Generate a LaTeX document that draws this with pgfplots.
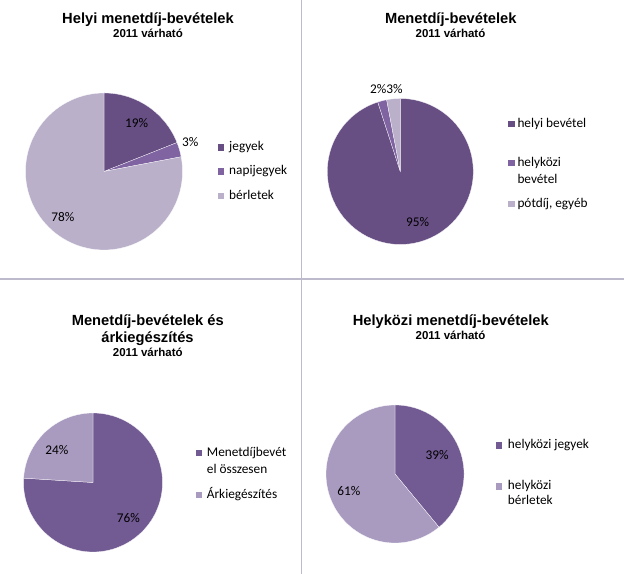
\documentclass[border=0pt]{standalone}
\usepackage{pgfplots}
\pgfplotsset{compat=1.18}
\usepackage{fontspec}
\setmainfont{Carlito}
\newfontfamily\arialf{Liberation Sans}
\definecolor{cA}{HTML}{674F84}
\definecolor{cB}{HTML}{8064A2}
\definecolor{cC}{HTML}{BAB0CA}
\definecolor{cD}{HTML}{725A93}
\definecolor{cE}{HTML}{A99BBF}
\definecolor{sep}{HTML}{BDBACB}
\newcommand\tfont{\arialf\bfseries\fontsize{14.7bp}{17bp}\selectfont}
\newcommand\sfont{\arialf\bfseries\fontsize{11.5bp}{13bp}\selectfont}
\newcommand\lfont{\fontsize{13.3bp}{16bp}\selectfont}
\pgfplotsset{pieax/.style={scale only axis, width=#1bp, height=#1bp,
  xmin=-1, xmax=1, ymin=-1, ymax=1, hide axis, clip=false, anchor=center}}
% slice between cumulative shares #1 and #2 (percent), clockwise from 12 o'clock
\newcommand\slice[3]{%
  \pgfmathsetmacro\sa{90-3.6*(#2)}%
  \pgfmathsetmacro\sb{90-3.6*(#1)}%
  \edef\doslice{\noexpand\addplot[fill=#3, draw=white, line width=0.25pt,
     domain=\sa:\sb, samples=90] ({cos(x)},{sin(x)}) -- (axis cs:0,0) -- cycle;}%
  \doslice}
\newcommand\lkey[3]{\fill[#3] (#1,#2-3.2) rectangle ++(6.4,6.4);}
\newcommand\ltext[3]{\node[anchor=base west, inner sep=0pt, font=\lfont] at (#1,#2-3.1) {#3};}
\begin{document}
\begin{tikzpicture}[x=1bp, y=1bp]
\path[use as bounding box] (0,0) rectangle (624,574);
% separators
\draw[sep, line width=1.2bp] (301.5,0) -- (301.5,574);
\draw[sep, line width=1.2bp] (0,295) -- (624,295);

% ---------- Chart 1 ----------
\begin{axis}[pieax=157, at={(104bp,402.5bp)}]
\slice{0}{19}{cA}
\slice{19}{19+3}{cB}
\slice{19+3}{19+3+78}{cC}
\node[font=\lfont] at (axis cs:0.417,0.614) {19\%};
\node[font=\lfont] at (axis cs:1.098,0.376) {3\%};
\node[font=\lfont] at (axis cs:-0.525,-0.576) {78\%};
\end{axis}
\node[anchor=base, inner sep=0pt, font=\tfont] at (148,550) {Helyi menetdíj-bevételek};
\node[anchor=base, inner sep=0pt, font=\sfont] at (148,536.3) {2011 várható};
\lkey{217.7}{426.3}{cA}\ltext{229}{426.3}{jegyek}
\lkey{217.7}{402.3}{cB}\ltext{229}{402.3}{napijegyek}
\lkey{217.7}{378}{cC}\ltext{229}{378}{bérletek}

% ---------- Chart 2 ----------
\begin{axis}[pieax=146, at={(400.3bp,402.5bp)}]
\slice{0}{95}{cA}
\slice{95}{95+2}{cB}
\slice{95+2}{95+2+3}{cC}
\node[font=\lfont] at (axis cs:-0.19,1.13) {2\%3\%};
\node[font=\lfont] at (axis cs:0.238,-0.688) {95\%};
\end{axis}
\node[anchor=base, inner sep=0pt, font=\tfont] at (450.8,550) {Menetdíj-bevételek};
\node[anchor=base, inner sep=0pt, font=\sfont] at (450.5,536) {2011 várható};
\lkey{508.3}{450}{cA}\ltext{517.3}{450}{helyi bevétel}
\lkey{508.3}{410.7}{cB}\ltext{517.3}{410.7}{helyközi}
\ltext{517.3}{394}{bevétel}
\lkey{508.3}{369.7}{cC}\ltext{517.3}{369.7}{pótdíj, egyéb}

% ---------- Chart 3 ----------
\begin{axis}[pieax=139, at={(93bp,91.5bp)}]
\slice{0}{76}{cD}
\slice{76}{76+24}{cE}
\node[font=\lfont] at (axis cs:-0.52,0.468) {24\%};
\node[font=\lfont] at (axis cs:0.508,-0.515) {76\%};
\end{axis}
\node[anchor=base, inner sep=0pt, font=\tfont] at (147.8,248.3) {Menetdíj-bevételek és};
\node[anchor=base, inner sep=0pt, font=\tfont] at (147.5,231.3) {árkiegészítés};
\node[anchor=base, inner sep=0pt, font=\sfont] at (147.8,217.3) {2011 várható};
\lkey{195.7}{120.7}{cD}\ltext{206.7}{120.7}{Menetdíjbevét}
\ltext{206.7}{104}{el összesen}
\lkey{195.7}{79}{cE}\ltext{206.7}{79}{Árkiegészítés}

% ---------- Chart 4 ----------
\begin{axis}[pieax=138, at={(395bp,100bp)}]
\slice{0}{39}{cD}
\slice{39}{39+61}{cE}
\node[font=\lfont] at (axis cs:0.61,0.275) {39\%};
\node[font=\lfont] at (axis cs:-0.667,-0.246) {61\%};
\end{axis}
\node[anchor=base, inner sep=0pt, font=\tfont] at (450.8,248.3) {Helyközi menetdíj-bevételek};
\node[anchor=base, inner sep=0pt, font=\sfont] at (450.5,234) {2011 várható};
\lkey{495.7}{128.3}{cD}\ltext{507.7}{128.3}{helyközi jegyek}
\lkey{495.7}{87.3}{cE}\ltext{507.7}{87.3}{helyközi}
\ltext{507.7}{72.3}{bérletek}
\end{tikzpicture}
\end{document}
